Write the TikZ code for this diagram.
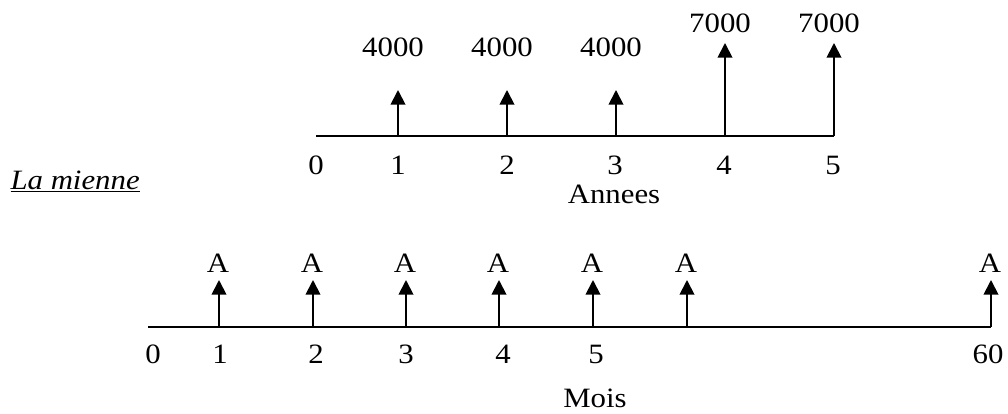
\documentclass[tikz,border=0pt]{standalone}
\usepackage{fontspec}
\setmainfont{Liberation Serif}[FakeStretch=1.1]
\usetikzlibrary{arrows.meta}
\begin{document}
\begin{tikzpicture}[x=0.75pt,y=-0.75pt,
  axis/.style={line width=1.5pt},
  flow/.style={line width=1.4pt,-{Triangle[length=11pt,width=11pt]}},
  lbl/.style={font=\fontsize{21}{25}\selectfont,inner sep=0pt}]
\useasboundingbox (0,0) rectangle (1008,414);
% ---------- top timeline (Annees) ----------
\coordinate (ta) at (316,136);
\coordinate (tb) at (834,136);
\draw[axis] (ta) -- (tb);
\foreach \n/\x/\tip in {1/398/90,2/507/90,3/616/90,4/725/43,5/834/43}{
  \coordinate (tbase\n) at (\x,136);
  \coordinate (ttip\n) at (\x,\tip);
  \draw[flow] (tbase\n) -- (ttip\n);
}
\node[lbl] (v1) at (393,47) {4000};
\node[lbl] (v2) at (502,47) {4000};
\node[lbl] (v3) at (611,47) {4000};
\node[lbl] (v4) at (720,23) {7000};
\node[lbl] (v5) at (829,23) {7000};
\foreach \n/\x in {0/316,1/398,2/507,3/615,4/724,5/833}{
  \node[lbl] (ty\n) at (\x,165) {\n};
}
\node[lbl] (annees) at (614,194) {Annees};
% ---------- label ----------
\node[lbl,anchor=base east] (mienne) at (140,189) {\underline{\textit{La mienne}}};
% ---------- bottom timeline (Mois) ----------
\coordinate (ba) at (148,327);
\coordinate (bb) at (991,327);
\draw[axis] (ba) -- (bb);
\foreach \n/\x in {1/219,2/313,3/406,4/499,5/593,6/687,7/991}{
  \coordinate (bbase\n) at (\x,327);
  \coordinate (btip\n) at (\x,280);
  \draw[flow] (bbase\n) -- (btip\n);
  \node[lbl] (A\n) at (\x-1,263) {A};
}
\begin{scope}
  \clip (0,0) rectangle (1008,363);
  \foreach \n/\lab/\x in {0/0/153,1/1/220,2/2/316,3/3/406,4/4/503,5/5/596,6/60/988}{
    \node[lbl] (m\n) at (\x,354) {\lab};
  }
\end{scope}
\node[lbl] (mois) at (595,398) {Mois};
\end{tikzpicture}
\end{document}
